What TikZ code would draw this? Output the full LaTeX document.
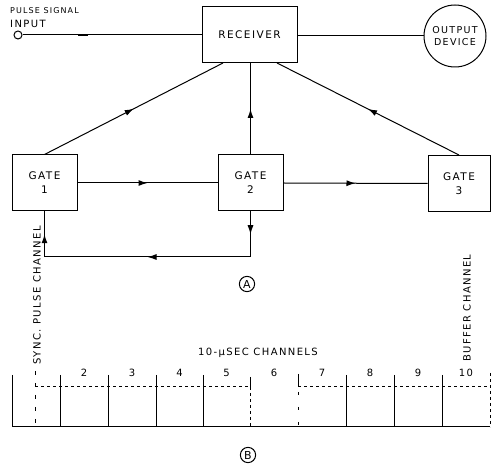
\documentclass[tikz,border=0pt]{standalone}
\usepackage{fontspec}
\setmainfont[LetterSpace=14]{DejaVu Sans}
\usetikzlibrary{arrows.meta,decorations.markings}
\tikzset{
    box/.style={draw, line width=1pt, minimum width=65pt, minimum height=56pt, align=center, font=\fontsize{10.5}{14}\selectfont},
    flow/.style={line width=1pt, postaction={decorate}, decoration={markings,
        mark=at position 0.5 with {\arrow{Latex[length=9pt,width=6pt]}}}},
    lbl/.style={font=\fontsize{10}{11}\selectfont, inner sep=0pt},
}
\begin{document}
\begin{tikzpicture}[x=1pt, y=-1pt]
    \useasboundingbox (0, 0) rectangle (491, 470);
    % 接收器与门
    \node[box, minimum width=95pt] (rec) at (249.5, 35) {RECEIVER};
    \node[draw, line width=1pt, circle, minimum size=62pt, align=center, inner sep=0pt,
          font=\fontsize{9.5}{12}\selectfont] (out) at (455, 36) {OUTPUT\\DEVICE};
    \node[box] (g1) at (44.5, 183) {GATE\\1};
    \node[box] (g2) at (250.5, 183) {GATE\\2};
    \node[box, minimum width=62pt] (g3) at (459, 183.5) {GATE\\3};

    % 输入端
    \node[lbl, anchor=west, font=\fontsize{8}{9}\selectfont] (pin) at (10, 11) {PULSE SIGNAL};
    \node[lbl, anchor=west] (inp) at (10, 24) {INPUT};
    \node[draw, line width=1pt, circle, minimum size=8pt, inner sep=0pt] (term) at (18, 35) {};
    \draw[line width=1pt] (term.east) -- (rec.west |- term.east);
    \draw[line width=2.4pt] (78, 35) -- (88, 35);
    \draw[line width=1pt] (rec.east |- out.west) -- (out.west);

    % 连接线
    \coordinate (r1) at (223, 63);
    \coordinate (r3) at (277, 63);
    \coordinate (c2) at (250.5, 257);
    \coordinate (c1) at (44.5, 257);
    \draw[flow] (g1.north) -- (r1);
    \draw[flow] (g2.north) -- (rec.south -| g2.north);
    \draw[flow] (g3.north) -- (r3);
    \draw[flow] (g1.east) -- (g2.west);
    \draw[flow] (g2.east) -- (g3.west);
    \draw[flow] (g2.south) -- (c2);
    \draw[flow] (c2) -- (c1);
    \draw[flow] (c1) -- (g1.south);
    \node[draw, line width=1pt, circle, inner sep=1.5pt, font=\fontsize{11}{11}\selectfont] (capa) at (247, 284) {A};

    % 通道
    \draw[line width=1pt] (12, 427) -- (490, 427);
    \foreach \x in {12, 60, 108, 156, 203, 346, 394, 442}
        \draw[line width=1pt] (\x, 375) -- (\x, 427);
    \draw[line width=1pt, dashed] (35, 387) -- (250, 387);
    \draw[line width=1pt, dashed] (298, 387) -- (490, 387);
    \draw[line width=1pt] (250, 377) -- (250, 387);
    \draw[line width=1pt] (298, 374) -- (298, 387);
    \draw[line width=1pt, dashed] (250, 387) -- (250, 427);
    \draw[line width=1pt, dash pattern=on 3pt off 12pt] (298, 392) -- (298, 427);
    \draw[line width=1pt, dashed] (490, 373) -- (490, 427);
    \draw[line width=1pt, dash pattern=on 4pt off 8pt] (35, 371) -- (35, 427);
    \foreach \n/\x in {2/84, 3/132, 4/179.5, 5/226.5, 6/274, 7/322, 8/370, 9/418, 10/466}
        \node[lbl] (ch\n) at (\x, 373) {\n};
    \node[lbl] (usec) at (258, 353) {10-µSEC CHANNELS};
    \node[lbl, rotate=90, anchor=west] (sync) at (37, 365) {SYNC. PULSE CHANNEL};
    \node[lbl, rotate=90, anchor=west] (buf) at (467, 362) {BUFFER CHANNEL};
    \node[draw, line width=1pt, circle, inner sep=1.5pt, font=\fontsize{11}{11}\selectfont] (capb) at (248, 455) {B};
\end{tikzpicture}
\end{document}
